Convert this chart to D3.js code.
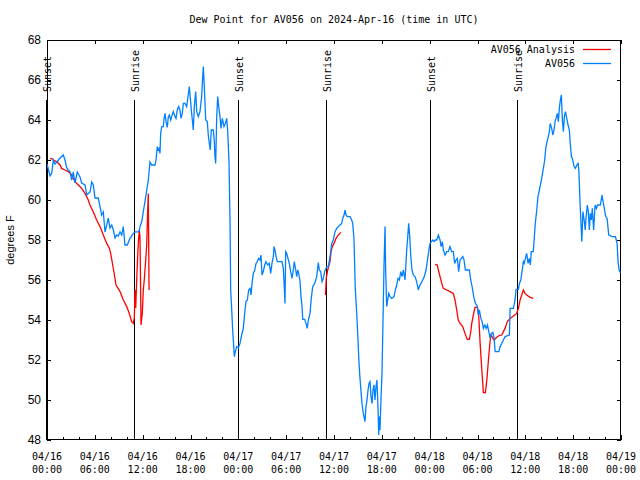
<!DOCTYPE html>
<html><head><meta charset="utf-8">
<script src="https://cdn.jsdelivr.net/npm/d3@7"></script>
<style>
html,body{margin:0;padding:0;background:#fff;}
svg{display:block;}
text{font-family:"DejaVu Sans Mono",monospace;font-size:10px;fill:#000;}
</style></head><body>
<svg id="chart" width="640" height="480"></svg>
<script>
// Hours after 2024-04-16 00:00 UTC
const blueTime = [
0,0.19,0.38,0.59,0.79,1.00,1.25,1.63,2.04,2.26,
2.47,2.89,3.10,3.30,3.51,3.80,4.14,4.35,4.77,4.98,
5.39,5.61,5.81,6.02,6.43,6.65,6.86,7.06,7.28,7.49,
7.69,7.90,8.12,8.32,8.53,8.74,8.94,9.16,9.37,9.57,
9.78,10.07,10.41,10.83,11.04,11.54,11.67,11.88,12.08,12.29,
12.51,12.71,12.92,13.13,13.55,13.67,13.84,13.96,14.09,14.17,
14.26,14.39,14.59,14.68,14.80,14.93,15.09,15.22,15.34,15.52,
15.64,15.84,16.06,16.18,16.34,16.52,16.68,16.81,16.97,17.10,
17.31,17.52,17.72,17.85,17.98,18.10,18.23,18.35,18.48,18.65,
18.78,18.98,19.19,19.40,19.53,19.61,19.73,19.91,20.11,20.23,
20.36,20.48,20.61,20.86,20.99,21.07,21.16,21.29,21.41,21.54,
21.70,21.83,21.99,22.20,22.37,22.54,22.67,22.83,22.96,23.04,
23.17,23.29,23.50,23.62,23.80,24.00,24.21,24.42,24.62,24.84,
24.96,25.13,25.30,25.47,25.59,25.72,25.88,26.06,26.22,26.38,
26.55,26.72,26.84,26.97,27.13,27.31,27.47,27.68,27.88,28.06,
28.22,28.39,28.48,28.60,28.73,28.89,29.48,29.64,29.73,29.85,
29.94,30.07,30.23,30.39,30.57,30.73,30.90,31.02,31.20,31.32,
31.45,31.57,31.74,31.86,31.99,32.08,32.33,32.49,32.65,32.78,
32.99,33.15,33.33,33.58,33.83,34.03,34.16,34.33,34.50,34.66,
34.83,35.09,35.29,35.50,35.71,35.91,36.13,36.34,36.54,36.75,
36.97,37.09,37.26,37.38,37.51,37.67,38.01,38.22,38.35,38.51,
38.67,38.85,39.01,39.14,39.26,39.39,39.51,39.64,39.76,39.89,
40.01,40.14,40.27,40.39,40.52,40.64,40.77,40.89,41.02,41.14,
41.27,41.39,41.52,41.61,41.69,41.77,41.89,42.02,42.11,42.27,
42.40,42.48,42.61,42.74,42.86,43.03,43.24,43.53,43.69,43.87,
44.03,44.20,44.37,44.53,44.70,44.91,45.12,45.25,45.37,45.50,
45.62,45.78,45.95,46.16,46.37,46.57,46.70,46.91,47.13,47.33,
47.54,47.70,47.88,48.04,48.21,48.38,48.55,48.71,48.89,49.09,
49.30,49.43,49.59,49.72,49.92,50.14,50.34,50.55,50.76,50.96,
51.14,51.30,51.47,51.64,51.81,51.97,52.15,52.31,52.48,52.98,
53.15,53.32,53.57,53.74,53.99,54.11,54.24,54.42,54.58,54.74,
54.92,55.08,55.25,55.42,55.59,55.75,55.93,56.09,56.21,56.68,
56.84,57.05,57.25,57.46,58.00,58.09,58.50,58.71,58.84,59.13,
59.26,59.43,59.58,59.75,59.87,60.00,60.17,60.34,60.50,60.63,
60.75,61.00,61.13,61.25,61.43,61.59,61.76,61.93,62.09,62.26,
62.43,62.56,62.72,62.88,63.01,63.13,63.31,63.44,63.60,63.73,
63.85,64.02,64.14,64.27,64.39,64.52,64.65,64.77,64.90,65.03,
65.20,65.36,65.52,65.65,65.78,65.95,66.11,66.28,66.45,66.62,
66.71,66.79,66.88,67.00,67.09,67.22,67.38,67.51,67.63,67.78,
67.90,68.03,68.15,68.28,68.40,68.57,68.75,68.91,69.07,69.41,
69.62,69.75,69.91,70.08,70.26,70.46,70.88,71.30,71.51,71.63,
71.76,71.92];
const blueDew = [
61.8,61.5,61.2,61.33,62.0,61.8,61.9,62.1,62.25,62.0,
61.6,61.4,61.0,61.4,60.85,61.4,61.15,60.85,60.75,60.25,
60.4,60.9,60.75,60.1,60.1,59.67,59.25,59.4,58.4,58.75,
59.1,58.6,58.75,58.5,58.1,58.25,58.2,58.4,58.25,58.67,
57.75,57.75,58.08,58.33,58.4,58.42,58.67,58.9,59.42,59.92,
60.5,61.0,61.9,61.75,61.75,62.0,62.67,62.5,62.58,62.33,
63.33,63.67,63.67,64.08,64.33,63.92,63.63,64.17,64.25,64.0,
64.17,64.42,64.17,64.08,64.5,64.67,64.5,64.08,64.33,64.83,
64.83,64.67,65.25,65.67,65.08,64.5,64.0,63.5,64.67,65.42,
64.42,64.17,64.42,65.17,66.17,66.67,65.67,64.0,63.92,63.25,
62.83,62.5,63.5,63.5,62.92,62.17,61.83,64.17,65.17,64.67,
64.17,63.58,64.08,63.67,63.83,64.08,63.42,61.9,58.83,55.5,
54.5,53.5,52.17,52.42,52.67,52.6,52.83,53.25,53.58,54.5,
54.92,55.0,55.5,55.58,55.25,55.83,56.33,56.5,56.83,56.92,
57.08,57.0,57.25,56.25,56.42,56.75,56.92,56.75,56.83,56.33,
56.83,57.17,57.67,57.5,57.17,56.92,56.92,56.58,55.92,54.83,
57.42,57.33,57.08,56.83,56.42,56.08,56.5,56.92,56.5,56.17,
56.5,56.33,55.92,55.17,54.67,54.03,54.03,53.83,53.58,54.0,
54.33,55.08,55.67,55.83,56.17,56.87,56.5,56.42,55.92,56.08,
56.42,56.67,56.67,57.17,57.83,58.0,58.42,58.58,58.67,58.75,
58.83,59.08,59.25,59.5,59.25,59.17,59.17,59.0,58.83,58.0,
55.58,54.33,53.0,51.83,51.08,50.42,49.83,49.42,49.17,48.92,
49.67,50.0,50.5,50.83,50.92,50.17,49.83,50.5,50.75,50.0,
50.67,51.0,49.58,48.25,49.17,48.5,50.0,51.33,53.17,56.67,
58.67,56.5,54.67,55.0,55.33,55.17,55.08,55.17,55.5,55.75,
56.08,56.0,56.42,56.17,56.5,56.0,57.5,58.17,58.83,58.17,
57.25,56.5,56.25,56.17,55.92,55.5,55.67,55.83,56.0,56.17,
56.5,56.92,57.42,57.83,57.92,58.0,57.92,58.0,58.0,58.25,
58.0,57.67,57.92,57.5,57.25,57.42,57.42,57.67,57.42,57.42,
56.83,57.0,57.08,56.42,57.0,57.08,57.17,57.0,56.5,56.5,
56.0,55.67,55.08,54.83,54.67,54.25,54.5,54.08,53.92,53.58,
53.75,53.58,53.75,53.42,53.08,53.33,53.38,53.08,52.42,52.42,
52.67,52.83,53.0,53.17,53.25,54.58,54.58,55.0,55.53,55.53,
55.83,56.0,56.42,56.92,56.83,57.08,57.33,56.83,57.08,56.75,
57.42,57.42,58.17,58.83,59.5,60.17,60.5,60.83,61.17,61.58,
62.0,62.58,62.92,63.17,63.42,63.83,63.58,63.25,63.5,63.92,
64.08,64.33,63.92,64.58,65.0,65.25,64.0,63.42,64.17,64.42,
64.08,63.75,63.5,62.75,62.17,62.0,61.67,61.58,61.75,61.83,
61.5,60.67,59.67,58.67,57.92,59.42,59.0,58.5,59.17,59.75,
59.42,58.5,59.33,59.0,59.58,58.5,59.75,59.58,59.75,59.75,
60.25,59.92,59.58,59.17,59.08,58.25,58.17,58.17,57.83,56.92,
56.5,56.37];

const redTime = [
0.38,0.59,0.79,1.22,1.63,1.84,2.26,2.67,3.10,3.51,
3.93,4.35,4.77,5.18,5.39,5.81,6.23,6.65,7.06,7.49,
7.81,7.99,8.24,8.40,8.66,9.16,9.57,10.00,10.32,10.62,
10.83,10.95,11.04,11.13,11.25,11.35,11.45,11.57,11.66,11.73,
11.79,11.95,12.08,12.20,12.38,12.51,12.63,12.71,12.80,12.81,
34.93,35.03,35.21,35.37,35.50,35.63,35.79,36.00,36.25,36.54,36.88,36.90,
48.67,48.96,49.09,49.30,49.51,49.71,50.14,50.55,50.96,51.18,
51.39,51.59,51.81,52.15,52.43,52.72,52.98,53.15,53.28,53.48,
53.69,53.99,54.16,54.33,54.54,54.74,54.99,55.17,55.37,55.59,
55.71,55.93,56.09,56.32,56.61,57.04,57.45,57.74,58.09,58.50,
58.92,59.13,59.34,59.55,59.75,59.96,60.17,60.59,61.00];
const redDew = [
62.05,62.08,62.0,61.92,61.75,61.58,61.5,61.42,61.25,60.92,
60.75,60.58,60.33,60.0,59.75,59.4,59.0,58.67,58.25,57.83,
57.6,57.33,56.75,56.4,55.75,55.42,55.0,54.67,54.33,53.92,
53.83,54.1,55.5,54.6,56.0,57.0,57.8,58.5,58.17,56.0,
53.75,54.33,55.5,56.0,57.0,57.75,59.5,60.33,55.5,null,
55.25,56.08,56.5,56.75,56.92,57.42,57.67,57.83,58.08,58.25,58.38,null,
56.78,56.75,56.5,56.17,55.83,55.58,55.5,55.42,55.33,55.0,
54.5,54.0,53.83,53.67,53.33,53.03,53.03,53.4,53.83,54.25,
54.63,54.63,54.17,52.83,51.5,50.37,50.37,51.0,52.0,53.0,
53.25,53.08,53.0,53.1,53.2,53.25,53.58,53.92,54.08,54.2,
54.33,54.58,55.0,55.25,55.5,55.33,55.25,55.13,55.08];

const sunTime = [-0.07, 10.92, 23.96, 35.0, 48.04, 58.96];
const sunLabel = ["Sunset","Sunrise","Sunset","Sunrise","Sunset","Sunrise"];
const yTicks = [48,50,52,54,56,58,60,62,64,66,68];
const seriesNames = ["AV056 Analysis","AV056"];
const seriesColors = ["#ff0000","#0080ff"];
const titleText = "Dew Point for AV056 on 2024-Apr-16 (time in UTC)";
const yLabel = "degrees F";

const t0 = Date.UTC(2024,3,16,0,0);
const toDate = h => new Date(t0 + h*3600000);

const L=47, R=621, T=40, B=440;
const svg = d3.select("#chart");
const x = d3.scaleUtc().domain([toDate(0), toDate(72)]).range([L,R]);
const y = d3.scaleLinear().domain([48,68]).range([B,T]);

svg.append("defs").append("clipPath").attr("id","clip")
  .append("rect").attr("x",L).attr("y",T).attr("width",R-L).attr("height",B-T);

const majorTicks = d3.utcHour.every(6).range(toDate(0), toDate(72.01));
const minorTicks = d3.utcHour.every(2).range(toDate(0), toDate(72.01));
const fmt1 = d3.utcFormat("%m/%d"), fmt2 = d3.utcFormat("%H:%M");

svg.append("g").attr("transform",`translate(0,${B})`)
  .call(d3.axisBottom(x).tickValues(majorTicks).tickSize(-5).tickFormat(""))
  .call(g=>g.select(".domain").remove());
svg.append("g").attr("transform",`translate(0,${B})`)
  .call(d3.axisBottom(x).tickValues(minorTicks).tickSize(-3).tickFormat(""))
  .call(g=>g.select(".domain").remove());
svg.append("g").attr("transform",`translate(0,${T})`)
  .call(d3.axisTop(x).tickValues(majorTicks).tickSize(-4).tickFormat(""))
  .call(g=>g.select(".domain").remove());

const xl = svg.append("g");
majorTicks.forEach(d=>{
  const t = xl.append("text").attr("x",x(d)).attr("y",B+20).attr("text-anchor","middle");
  t.append("tspan").attr("x",x(d)).attr("dy",0).text(fmt1(d));
  t.append("tspan").attr("x",x(d)).attr("dy",13).text(fmt2(d));
});

svg.append("g").attr("transform",`translate(${L},0)`)
  .call(d3.axisLeft(y).tickValues(yTicks).tickSize(-4).tickFormat(""))
  .call(g=>g.select(".domain").remove());
svg.append("g").attr("transform",`translate(${R},0)`)
  .call(d3.axisRight(y).tickValues(yTicks).tickSize(-4).tickFormat(""))
  .call(g=>g.select(".domain").remove());
svg.selectAll(".tick line").attr("stroke","#000").attr("shape-rendering","crispEdges");
svg.append("g").selectAll("text").data(yTicks).join("text")
  .attr("x",L-6).attr("y",d=>y(d)).attr("dy","0.35em").attr("text-anchor","end")
  .style("font-family","'Liberation Sans',Arial,sans-serif").style("font-size","12px")
  .text(d=>d);

svg.append("rect").attr("x",L+0.5).attr("y",T+0.5).attr("width",R-L-1).attr("height",B-T-1)
  .attr("fill","none").attr("stroke","#000").attr("shape-rendering","crispEdges");

sunTime.forEach((h,i)=>{
  const sx = Math.round(x(toDate(h)))+0.5;
  svg.append("line").attr("x1",sx).attr("x2",sx).attr("y1",y(65)).attr("y2",B)
    .attr("stroke","#000").attr("stroke-width",1).attr("shape-rendering","crispEdges");
  svg.append("text").attr("transform",`translate(${sx+4.5},92) rotate(-90)`)
    .attr("text-anchor","start").text(sunLabel[i]);
});

const plot = svg.append("g").attr("clip-path","url(#clip)");
const line = d3.line().defined(d=>d[1]!==null).x(d=>x(toDate(d[0]))).y(d=>y(d[1]));
const redData = redTime.map((t,i)=>[t,redDew[i]]);
const blueData = blueTime.map((t,i)=>[t,blueDew[i]]);
plot.append("path").datum(redData).attr("d",line).attr("fill","none")
  .attr("stroke",seriesColors[0]).attr("stroke-width",1.3);
plot.append("path").datum(blueData).attr("d",line).attr("fill","none")
  .attr("stroke",seriesColors[1]).attr("stroke-width",1.3);

seriesNames.forEach((n,i)=>{
  const ly = 49 + i*14;
  svg.append("text").attr("x",575).attr("y",ly).attr("dy","0.35em").attr("text-anchor","end").text(n);
  svg.append("line").attr("x1",583).attr("x2",611).attr("y1",ly+0.5).attr("y2",ly+0.5)
    .attr("stroke",seriesColors[i]).attr("stroke-width",1.3);
});

svg.append("text").attr("x",(L+R)/2).attr("y",23).attr("text-anchor","middle").text(titleText);
svg.append("text").attr("transform",`translate(14,${(T+B)/2}) rotate(-90)`)
  .attr("text-anchor","middle").style("font-family","'Liberation Sans',Arial,sans-serif").style("font-size","11px").text(yLabel);
</script>
</body></html>
